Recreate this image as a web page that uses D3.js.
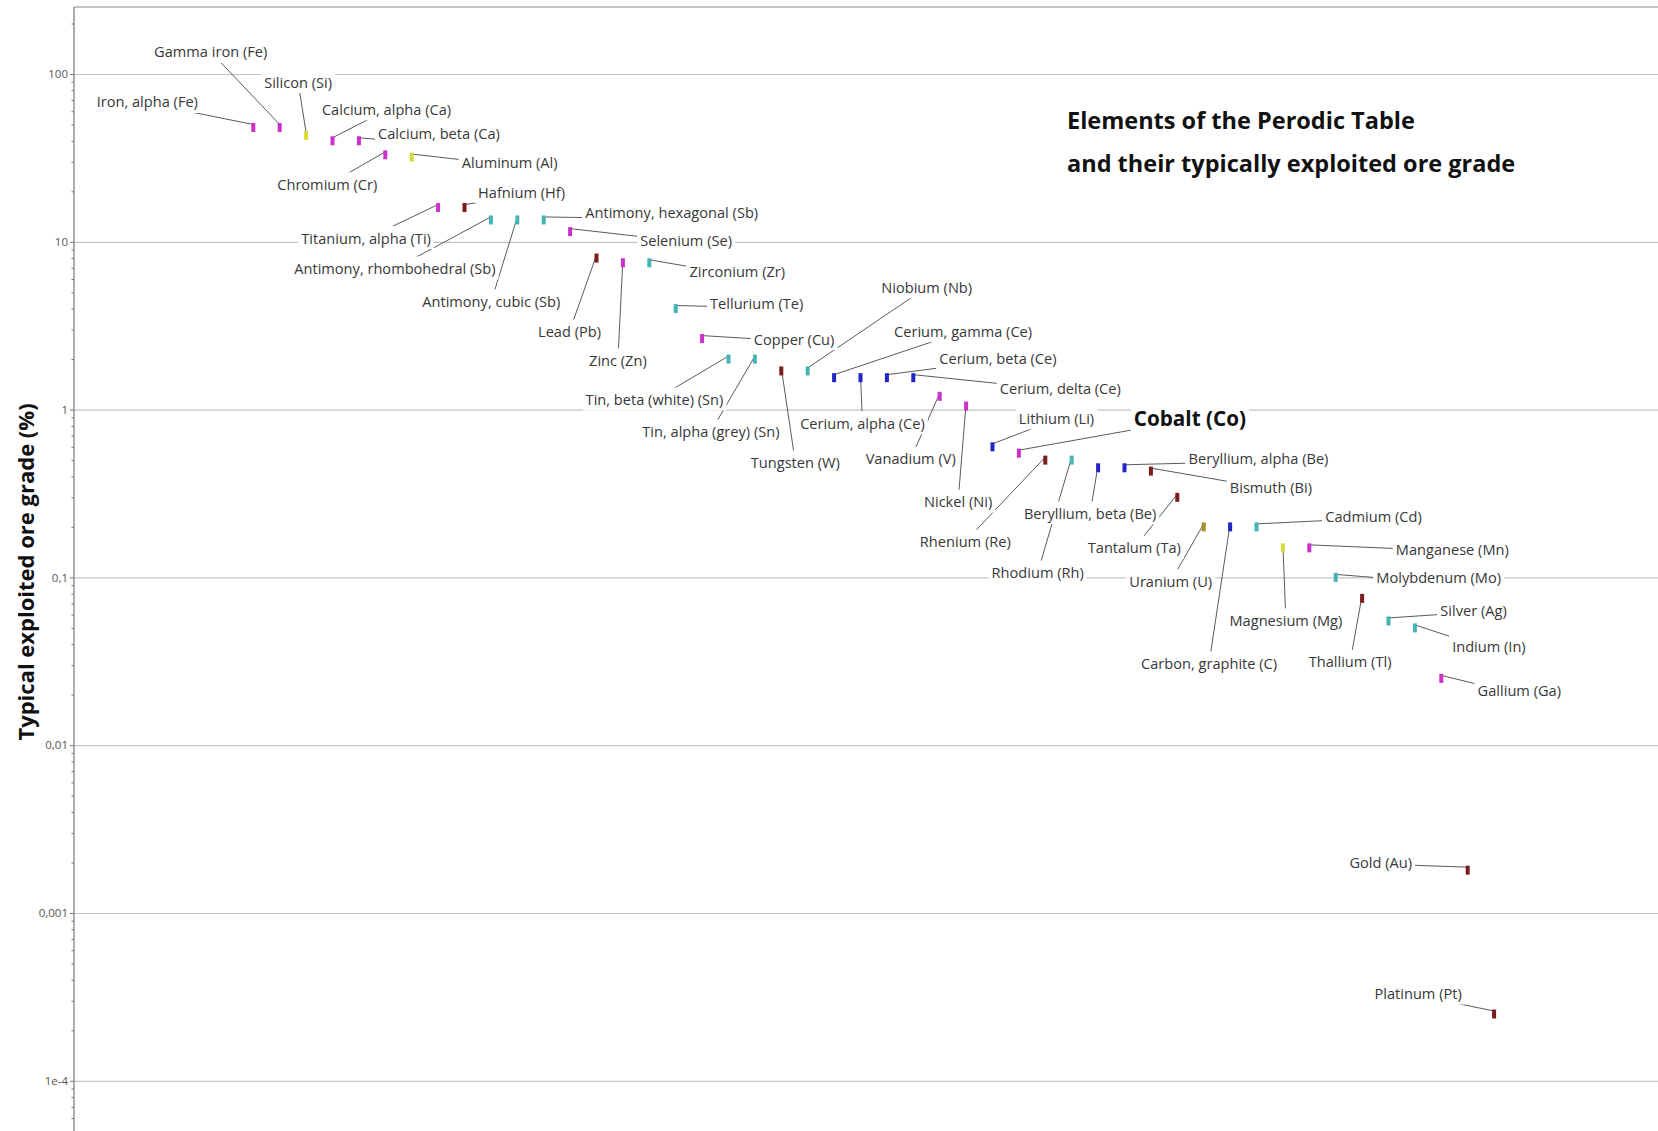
<!DOCTYPE html>
<html>
<head>
<meta charset="utf-8">
<script src="https://cdn.jsdelivr.net/npm/d3@7"></script>
<style>
  html, body { margin: 0; padding: 0; background: #fff; }
  svg { display: block; font-family: "Open Sans", "Noto Sans", sans-serif; }
</style>
</head>
<body>
<svg id="chart" width="1658" height="1131"></svg>
<script>
// Elements / phases, in plotting order
const elements = [
  "Iron, alpha (Fe)", "Gamma iron (Fe)", "Silicon (Si)", "Calcium, alpha (Ca)", "Calcium, beta (Ca)",
  "Chromium (Cr)", "Aluminum (Al)", "Titanium, alpha (Ti)", "Hafnium (Hf)", "Antimony, rhombohedral (Sb)",
  "Antimony, cubic (Sb)", "Antimony, hexagonal (Sb)", "Selenium (Se)", "Lead (Pb)", "Zinc (Zn)",
  "Zirconium (Zr)", "Tellurium (Te)", "Copper (Cu)", "Tin, beta (white) (Sn)", "Tin, alpha (grey) (Sn)",
  "Tungsten (W)", "Niobium (Nb)", "Cerium, gamma (Ce)", "Cerium, alpha (Ce)", "Cerium, beta (Ce)",
  "Cerium, delta (Ce)", "Vanadium (V)", "Nickel (Ni)", "Lithium (Li)", "Cobalt (Co)",
  "Rhenium (Re)", "Rhodium (Rh)", "Beryllium, beta (Be)", "Beryllium, alpha (Be)", "Bismuth (Bi)",
  "Tantalum (Ta)", "Uranium (U)", "Carbon, graphite (C)", "Cadmium (Cd)", "Magnesium (Mg)",
  "Manganese (Mn)", "Molybdenum (Mo)", "Thallium (Tl)", "Silver (Ag)", "Indium (In)",
  "Gallium (Ga)", "Gold (Au)", "Platinum (Pt)"
];

// Typical exploited ore grade, %
const oreGrade = [
  48, 48, 43, 40, 40,
  33, 32, 16, 16, 13.5,
  13.5, 13.5, 11.5, 8, 7.5,
  7.5, 4, 2.65, 2, 2,
  1.7, 1.7, 1.55, 1.55, 1.55,
  1.55, 1.2, 1.05, 0.6, 0.55,
  0.5, 0.5, 0.45, 0.45, 0.43,
  0.3, 0.2, 0.2, 0.2, 0.15,
  0.15, 0.1, 0.075, 0.055, 0.05,
  0.025, 0.0018, 0.00025
];

// Marker colour group of each element
const markerGroup = [
  "A", "A", "B", "A", "A",
  "A", "B", "A", "C", "D",
  "D", "D", "A", "C", "A",
  "D", "D", "A", "D", "D",
  "C", "D", "E", "E", "E",
  "E", "A", "A", "E", "A",
  "C", "D", "E", "E", "C",
  "C", "F", "E", "D", "B",
  "A", "D", "C", "D", "D",
  "A", "C", "C"
];

const highlighted = "Cobalt (Co)";

// Axis ticks
const tickValues = [100, 10, 1, 0.1, 0.01, 0.001, 1e-4];
const tickLabels = ["100", "10", "1", "0,1", "0,01", "0,001", "1e-4"];

const titleLines = ["Elements of the Perodic Table", "and their typically exploited ore grade"];
const yTitle = "Typical exploited ore grade (%)";

// ---- layout & style ----
const groupColor = { A: "#cc30cc", B: "#d9d93a", C: "#7c1c1c", D: "#45b4b4", E: "#2424c8", F: "#a88c26" };

// label centre offsets from each marker, px
const labelOffset = [
  [-106, -26], [-69, -76], [-8, -54], [54, -32], [80, -8],
  [-58, 29], [98, 5], [-72, 30], [57, -16], [-96, 48],
  [-26, 81], [128, -8], [116, 8], [-27, 73], [-5, 97],
  [88, 8], [81, -6], [92, 0], [-74, 40], [-44, 72],
  [14, 91], [119, -84], [129, -47], [2, 45], [111, -20],
  [147, 10], [-29, 62], [-8, 95], [64, -29], [171, -35],
  [-80, 81], [-34, 112], [-8, 45], [134, -10], [120, 16],
  [-43, 50], [-33, 54], [-21, 136], [117, -11], [3, 72],
  [143, 1], [103, 0], [-12, 63], [85, -11], [74, 18],
  [78, 12], [-87, -8], [-76, -21]
];

const W = 1658, H = 1131;
const plotLeft = 74, plotTop = 7;
const svg = d3.select("#chart");

const x = d3.scalePoint().domain(elements).range([253.3, 1494.1]);
const y = d3.scaleLog().domain([1e-4, 100]).range([1080.8, 74]);

// gridlines
const grid = svg.append("g").attr("transform", `translate(${plotLeft},0)`)
  .call(d3.axisLeft(y).tickValues(tickValues).tickSize(-(W - plotLeft)).tickFormat(""));
grid.select(".domain").remove();
grid.selectAll("line").attr("stroke", "#c4c4c4").attr("stroke-width", 1.2);

// frame: top border
svg.append("line").attr("x1", plotLeft).attr("x2", W).attr("y1", plotTop).attr("y2", plotTop)
  .attr("stroke", "#8a8a8a").attr("stroke-width", 1.2);

// minor ticks
const minorVals = [];
for (let e = -5; e <= 2; e++) for (let m = 2; m <= 9; m++) {
  const v = m * Math.pow(10, e);
  if (y(v) > plotTop && y(v) < H) minorVals.push(v);
}
const minor = svg.append("g").attr("transform", `translate(${plotLeft},0)`)
  .call(d3.axisLeft(y).tickValues(minorVals).tickSize(2.5).tickFormat(""));
minor.select(".domain").remove();
minor.selectAll("line").attr("stroke", "#777");

// y axis with major ticks and labels
const yAxis = svg.append("g").attr("transform", `translate(${plotLeft},0)`)
  .call(d3.axisLeft(y).tickValues(tickValues).tickSize(4).tickPadding(2)
    .tickFormat((d, i) => tickLabels[i]));
yAxis.select(".domain").remove();
yAxis.selectAll("line").attr("stroke", "#777");
yAxis.selectAll("text").attr("fill", "#555").attr("font-size", 11.5)
  .attr("font-family", "'Open Sans', sans-serif");
svg.append("line").attr("x1", plotLeft).attr("x2", plotLeft).attr("y1", plotTop).attr("y2", H)
  .attr("stroke", "#808080").attr("stroke-width", 1.3);

// y axis title
svg.append("text")
  .attr("transform", `translate(25,572) rotate(-90)`)
  .attr("text-anchor", "middle").attr("dominant-baseline", "central")
  .attr("font-size", 22).attr("font-weight", 700).attr("fill", "#111")
  .text(yTitle);

// chart title
titleLines.forEach((t, i) => {
  svg.append("text").attr("x", 1067).attr("y", 120 + i * 43)
    .attr("dominant-baseline", "central")
    .attr("font-size", 23.5).attr("font-weight", 700).attr("fill", "#111")
    .text(t);
});

// labels with white backgrounds and leader lines
const leaders = svg.append("g");
const labelLayer = svg.append("g");
const markerLayer = svg.append("g");

elements.forEach((name, i) => {
  const mx = x(name), my = y(oreGrade[i]);
  const cx = mx + labelOffset[i][0], cy = my + labelOffset[i][1];
  const hi = name === highlighted;
  const g = labelLayer.append("g");
  const bg = g.append("rect").attr("fill", "#fff");
  const txt = g.append("text")
    .attr("x", cx).attr("y", cy)
    .attr("text-anchor", "middle").attr("dominant-baseline", "central")
    .attr("font-size", hi ? 20.7 : 14.6).attr("font-weight", hi ? 700 : 400)
    .attr("fill", hi ? "#111" : "#383838")
    .text(name);
  const w = txt.node().getComputedTextLength();
  const hw = w / 2 + 3, hh = hi ? 13.5 : 11.5;
  bg.attr("x", cx - hw).attr("y", cy - hh).attr("width", 2 * hw).attr("height", 2 * hh);

  // leader from the marker to the edge of the label box
  const dx = cx - mx, dy = cy - my;
  let s = Math.min(dx !== 0 ? hw / Math.abs(dx) : Infinity, dy !== 0 ? (hh - 2) / Math.abs(dy) : Infinity);
  s = Math.min(s, 1);
  leaders.append("line")
    .attr("x1", mx).attr("y1", my - 3)
    .attr("x2", cx - s * dx).attr("y2", cy - s * dy)
    .attr("stroke", "#5a5a5a").attr("stroke-width", 1);

  markerLayer.append("rect")
    .attr("x", mx - 2).attr("y", my - 4.5)
    .attr("width", 4).attr("height", 9)
    .attr("fill", groupColor[markerGroup[i]]);
});
</script>
</body>
</html>
